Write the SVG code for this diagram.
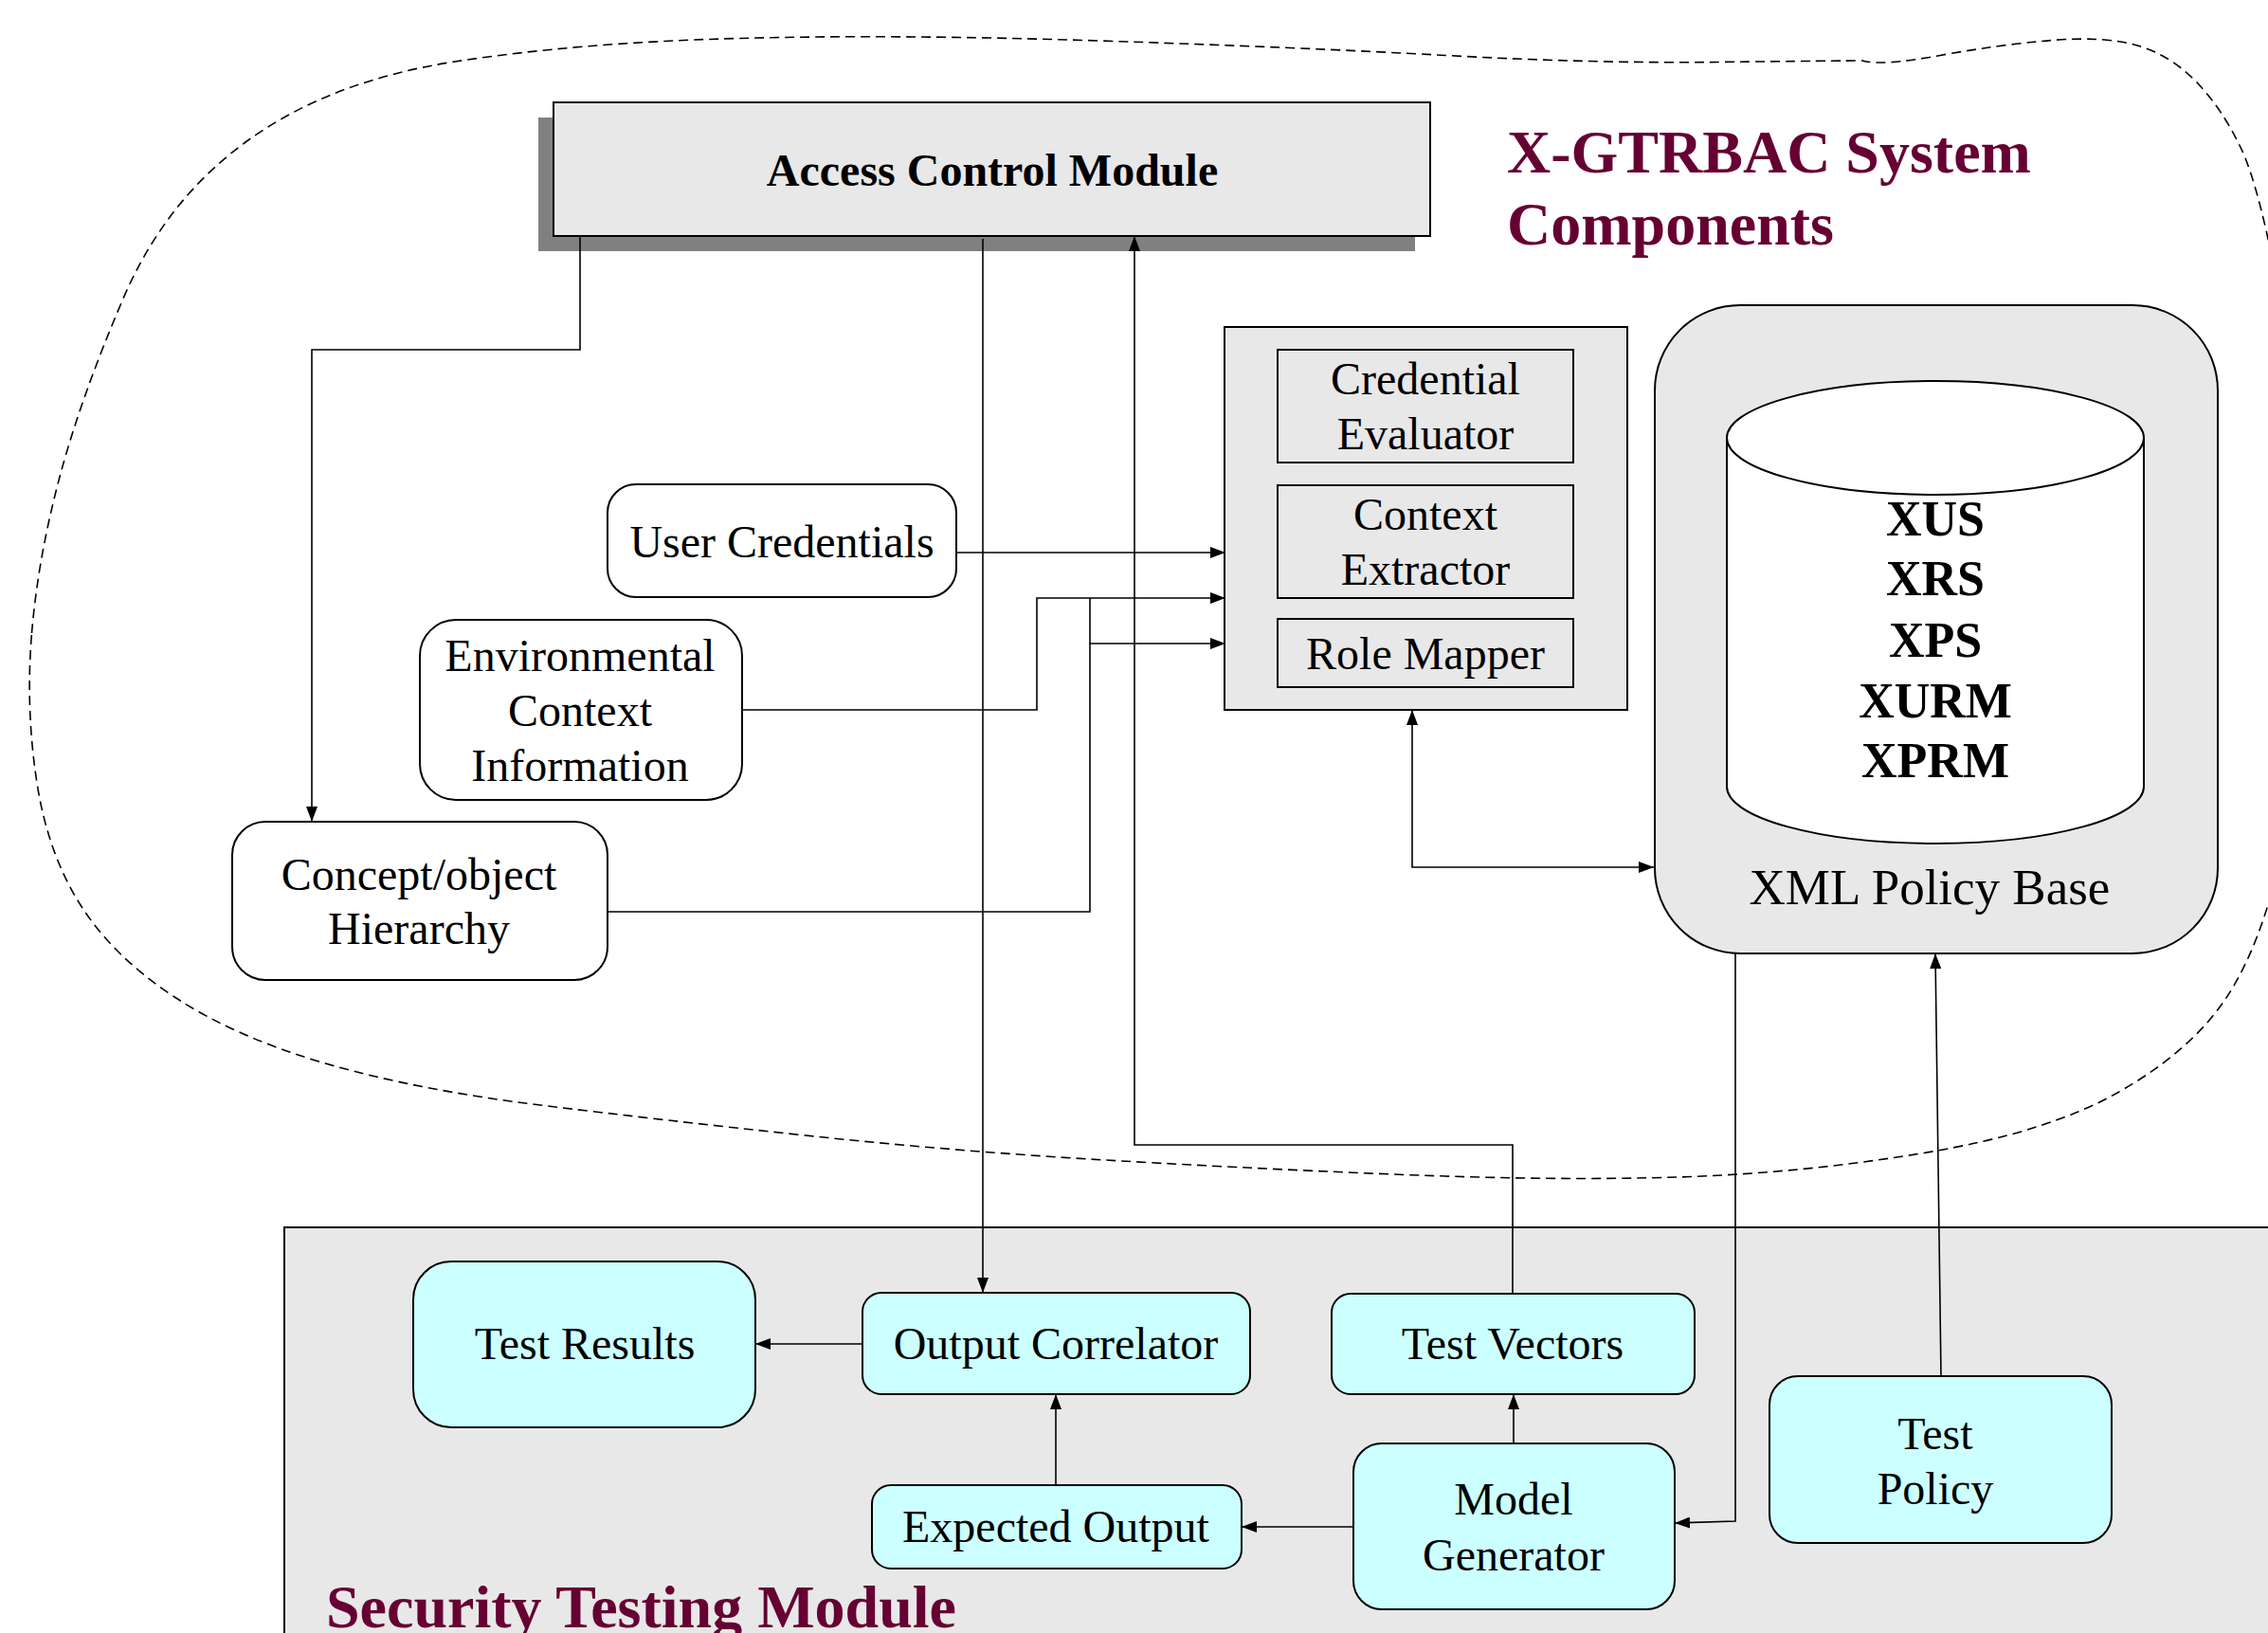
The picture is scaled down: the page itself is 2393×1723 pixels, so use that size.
<svg xmlns="http://www.w3.org/2000/svg" width="2393" height="1723" viewBox="0 0 2393 1723">
<style>
text{font-family:"Liberation Serif","Times New Roman",serif;fill:#000}
.t{font-size:48px;text-anchor:middle}
.b{font-weight:bold}
.title{font-size:64px;font-weight:bold;fill:#660033}
.gray{fill:#e8e8e8;stroke:#000;stroke-width:2}
.cy{fill:#ccffff;stroke:#000;stroke-width:2}
.wh{fill:#fff;stroke:#000;stroke-width:2}
.c{fill:none;stroke:#000;stroke-width:1.6}
</style>
<defs>
<marker id="a" markerUnits="userSpaceOnUse" markerWidth="16" markerHeight="12" refX="16" refY="6" orient="auto-start-reverse">
<path d="M0,0 L16,6 L0,12 z" fill="#000"/>
</marker>
</defs>
<rect width="2393" height="1723" fill="#fff"/>
<g id="security-testing-module">
<rect x="300" y="1295" width="2200" height="500" fill="#e8e8e8" stroke="#000" stroke-width="2"/>
<text class="title" x="344" y="1717">Security Testing Module</text>
</g>
<g id="system-boundary">
<path d="M33.5,668 Q40,590 62.5,505 Q85,420 130,315 Q175,210 262.5,147.5 Q350,85 480,65 Q610,45 778,40.5 Q946,36 1159.5,43 Q1373,50 1526.5,58.5 Q1680,67 1812.5,65.5 Q1945,64 1965,64 Q1985,70 2047,58.5 Q2110,47 2165,42.5 Q2220,38 2255,48 Q2290,58 2317.5,86.5 Q2345,115 2365,157.5 Q2385,200 2407.5,325 Q2430,450 2430,625 Q2430,800 2407.5,900 Q2385,1000 2347.5,1055 Q2310,1110 2235,1152.5 Q2160,1195 2030,1216.5 Q1900,1238 1770,1242 Q1640,1246 1470,1239 Q1300,1232 1150,1223 Q1000,1214 850,1198 Q700,1182 570,1166 Q440,1150 345,1122.5 Q250,1095 185,1052.5 Q120,1010 85,955 Q50,900 38.5,823 Q27,746 33.5,668 Z" fill="none" stroke="#000" stroke-width="1.6" stroke-dasharray="10 6"/>
<text class="title" x="1590" y="182">X-GTRBAC System</text>
<text class="title" x="1590" y="258">Components</text>
</g>
<g id="access-control-module">
<rect x="568" y="124" width="925" height="141" fill="#808080"/>
<rect class="gray" x="584" y="108" width="925" height="141"/>
<text class="t b" x="1047" y="196">Access Control Module</text>
</g>
<g id="connectors">
<path class="c" d="M612,249 V369 H329 V867" marker-end="url(#a)"/>
<path class="c" d="M1037,252 V1364" marker-end="url(#a)"/>
<path class="c" d="M1596,1365 V1208 H1197 V249" marker-end="url(#a)"/>
<path class="c" d="M1009,583 H1293" marker-end="url(#a)"/>
<path class="c" d="M783,749 H1094 V631 H1293" marker-end="url(#a)"/>
<path class="c" d="M641,962 H1150 V679 H1293" marker-end="url(#a)"/>
<path class="c" d="M1150,679 V631"/>
<path class="c" d="M1490,749 V915 H1745" marker-start="url(#a)" marker-end="url(#a)"/>
<path class="c" d="M1831,1006 V1605 L1767,1607" marker-end="url(#a)"/>
<path class="c" d="M2048,1452 L2042,1006" marker-end="url(#a)"/>
<path class="c" d="M909,1418 H797" marker-end="url(#a)"/>
<path class="c" d="M1114,1567 V1471" marker-end="url(#a)"/>
<path class="c" d="M1428,1611 H1310" marker-end="url(#a)"/>
<path class="c" d="M1597,1523 V1471" marker-end="url(#a)"/>
</g>
<g id="evaluator-group">
<rect class="gray" x="1292" y="345" width="425" height="404"/>
</g>
<g id="credential-evaluator">
<rect class="gray" x="1348" y="369" width="312" height="119"/>
<text class="t" x="1504" y="416">Credential</text>
<text class="t" x="1504" y="474">Evaluator</text>
</g>
<g id="context-extractor">
<rect class="gray" x="1348" y="512" width="312" height="119"/>
<text class="t" x="1504" y="559">Context</text>
<text class="t" x="1504" y="617">Extractor</text>
</g>
<g id="role-mapper">
<rect class="gray" x="1348" y="653" width="312" height="72"/>
<text class="t" x="1504" y="706">Role Mapper</text>
</g>
<g id="xml-policy-base">
<rect class="gray" x="1746" y="322" width="594" height="684" rx="90" ry="90"/>
<path class="wh" d="M1822,462 V830 A220,60 0 0 0 2262,830 V462 A220,60 0 0 0 1822,462 Z"/>
<path class="c" style="stroke-width:2" d="M1822,462 A220,60 0 0 0 2262,462"/>
<text class="b" style="font-size:52px;text-anchor:middle" x="2042" y="565">XUS</text>
<text class="b" style="font-size:52px;text-anchor:middle" x="2042" y="628">XRS</text>
<text class="b" style="font-size:52px;text-anchor:middle" x="2042" y="693">XPS</text>
<text class="b" style="font-size:52px;text-anchor:middle" x="2042" y="757">XURM</text>
<text class="b" style="font-size:52px;text-anchor:middle" x="2042" y="820">XPRM</text>
<text style="font-size:53px;text-anchor:middle" x="2036" y="954">XML Policy Base</text>
</g>
<g id="user-credentials">
<rect class="wh" x="641" y="511" width="368" height="119" rx="30" ry="30"/>
<text class="t" x="825" y="588">User Credentials</text>
</g>
<g id="environmental-context">
<rect class="wh" x="443" y="654" width="340" height="190" rx="38" ry="38"/>
<text class="t" x="612" y="708">Environmental</text>
<text class="t" x="612" y="766">Context</text>
<text class="t" x="612" y="824">Information</text>
</g>
<g id="concept-hierarchy">
<rect class="wh" x="245" y="867" width="396" height="167" rx="35" ry="35"/>
<text class="t" x="442" y="939">Concept/object</text>
<text class="t" x="442" y="996">Hierarchy</text>
</g>
<g id="test-results">
<rect class="cy" x="436" y="1331" width="361" height="175" rx="40" ry="40"/>
<text class="t" x="617" y="1434">Test Results</text>
</g>
<g id="output-correlator">
<rect class="cy" x="910" y="1364" width="409" height="107" rx="20" ry="20"/>
<text class="t" x="1114" y="1434">Output Correlator</text>
</g>
<g id="test-vectors">
<rect class="cy" x="1405" y="1365" width="383" height="106" rx="20" ry="20"/>
<text class="t" x="1596" y="1434">Test Vectors</text>
</g>
<g id="expected-output">
<rect class="cy" x="920" y="1567" width="390" height="88" rx="20" ry="20"/>
<text class="t" x="1114" y="1627">Expected Output</text>
</g>
<g id="model-generator">
<rect class="cy" x="1428" y="1523" width="339" height="175" rx="30" ry="30"/>
<text class="t" x="1597" y="1598">Model</text>
<text class="t" x="1597" y="1657">Generator</text>
</g>
<g id="test-policy">
<rect class="cy" x="1867" y="1452" width="361" height="176" rx="30" ry="30"/>
<text class="t" x="2042" y="1529">Test</text>
<text class="t" x="2042" y="1587">Policy</text>
</g>
</svg>
